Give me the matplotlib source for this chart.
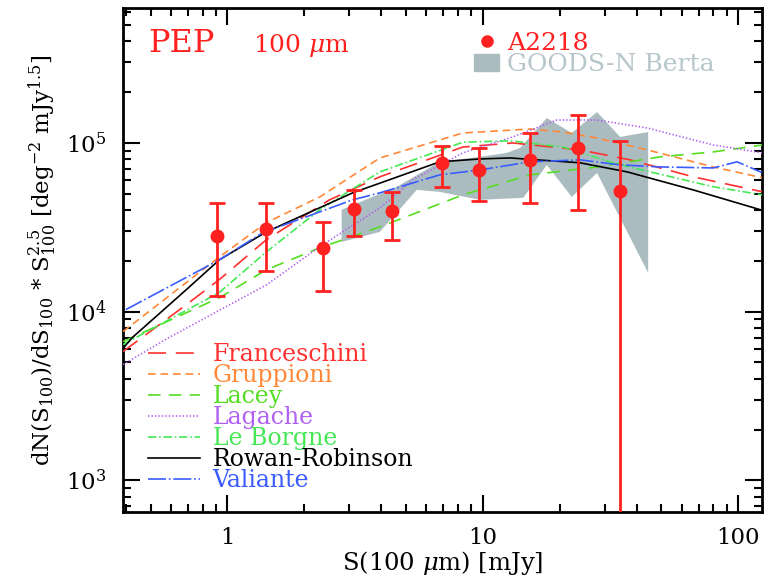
import matplotlib
matplotlib.use("Agg")
import matplotlib.pyplot as plt
import matplotlib.patches as mpatches
from matplotlib.lines import Line2D
from matplotlib.ticker import FuncFormatter, LogLocator, NullFormatter
import numpy as np

plt.rcParams['font.family'] = ['DejaVu Serif']
plt.rcParams['mathtext.fontset'] = 'dejavuserif'
plt.rcParams['mathtext.default'] = 'regular'
plt.rcParams['lines.scale_dashes'] = False

# A2218 counts
a2218_s = [0.91, 1.41, 2.36, 3.12, 4.40, 6.9, 9.7, 15.3, 23.6, 34.4]
a2218_y = [28200, 31000, 23900, 40600, 39600, 76200, 69200, 79000, 93500, 52000]
a2218_lo = [12300, 17500, 13300, 28200, 26700, 55000, 45400, 44100, 40200, 1]
a2218_hi = [44100, 44100, 34100, 52700, 51300, 96000, 93500, 115000, 146000, 103000]

# GOODS-N Berta band
berta_s_up = [2.80, 4.60, 6.78, 9.73, 12.4, 14.0, 17.8, 22.3, 28.0, 34.5, 44.4]
berta_up = [40200, 54900, 77300, 82700, 87300, 93400, 140500, 114600, 152500, 108600, 116000]
berta_s_lo = [2.80, 3.95, 5.51, 6.78, 9.73, 14.4, 17.8, 22.3, 28.0, 44.4]
berta_lo = [25900, 29700, 52700, 51300, 46000, 47300, 74100, 47900, 66400, 17000]

# models
fran_s = [0.39, 0.69, 0.93, 1.42, 2.51, 3.95, 8.35, 13.1, 24.0, 37.7, 66.6, 125]
fran_y = [5800, 11000, 15500, 26700, 46000, 63000, 94600, 100000, 91000, 79400, 63000, 51300]
grup_s = [0.39, 0.93, 1.42, 2.30, 3.95, 8.35, 15.3, 20.6, 28.0, 44.0, 79.8, 125]
grup_y = [7620, 21100, 33700, 47900, 81500, 114600, 121000, 116000, 107000, 91000, 72100, 62100]
lacey_s = [0.39, 0.93, 1.42, 2.30, 3.95, 8.35, 15.3, 28.0, 49.4, 79.8, 125]
lacey_y = [6640, 12100, 17700, 23900, 31800, 49200, 64700, 72100, 82700, 88500, 97300]
lag_s = [0.39, 0.59, 1.42, 2.30, 3.95, 5.31, 8.35, 13.1, 19.5, 28.0, 44.0, 79.8, 125]
lag_y = [4850, 7020, 14400, 24300, 41200, 60400, 87300, 108600, 136800, 136800, 122700, 97300, 87300]
lebo_s = [0.39, 0.93, 1.42, 2.30, 3.95, 8.35, 12.8, 20.6, 32.3, 45.2, 79.8, 125]
lebo_y = [6380, 13000, 22600, 40200, 67400, 101000, 103000, 94600, 76300, 67400, 55000, 49200]
rr_s = [0.387, 0.424, 0.69, 0.93, 1.42, 3.09, 6.78, 9.73, 12.8, 16.3, 24.0, 36.7, 66.6, 122]
rr_y = [5960, 7020, 13500, 20300, 29700, 50600, 77300, 80400, 81500, 79400, 76300, 67400, 52700, 40200]
val_s = [0.40, 0.93, 1.37, 3.09, 3.95, 6.78, 9.73, 15.3, 24.0, 34.5, 49.4, 79.8, 99, 125]
val_y = [10280, 20300, 29300, 46000, 50600, 64700, 69200, 77300, 79400, 74100, 72100, 71100, 77300, 66400]

fig = plt.figure(figsize=(7.69, 5.81), dpi=100)
ax = fig.add_axes([0.16, 0.119, 0.831, 0.867])

ax.fill(berta_s_up + berta_s_lo[::-1], berta_up + berta_lo[::-1],
        color='#aabcc0', lw=0, zorder=1)

lw = 1.2
ax.plot(fran_s, fran_y, color='#ff3030', lw=lw, dashes=(13, 7), label='Franceschini', zorder=3)
ax.plot(grup_s, grup_y, color='#ff8838', lw=lw, dashes=(5.5, 3.5), label='Gruppioni', zorder=3)
ax.plot(lacey_s, lacey_y, color='#55dd22', lw=lw, dashes=(9, 6), label='Lacey', zorder=3)
ax.plot(lag_s, lag_y, color='#b060f0', lw=lw, dashes=(1, 1.5), label='Lagache', zorder=3)
ax.plot(lebo_s, lebo_y, color='#44e855', lw=lw, dashes=(6, 2, 1.2, 2), label='Le Borgne', zorder=3)
ax.plot(rr_s, rr_y, color='black', lw=lw, label='Rowan-Robinson', zorder=3)
ax.plot(val_s, val_y, color='#3a5cff', lw=lw, dashes=(13, 2, 1.2, 2), label='Valiante', zorder=3)

y = np.array(a2218_y)
yerr = [y - np.array(a2218_lo), np.array(a2218_hi) - y]
ax.errorbar(a2218_s, a2218_y, yerr=yerr, fmt='o', color='#ff2020', ms=9,
            elinewidth=2, capsize=6, capthick=2, zorder=5)

ax.set_xscale('log')
ax.set_yscale('log')
ax.set_xlim(0.39, 124)
ax.set_ylim(650, 6.3e5)

ax.xaxis.set_major_formatter(FuncFormatter(lambda v, p: '%g' % v))
ax.xaxis.set_minor_formatter(NullFormatter())
ax.yaxis.set_minor_locator(LogLocator(subs=np.arange(2, 10)))
ax.yaxis.set_minor_formatter(NullFormatter())
ax.tick_params(which='both', direction='in', top=True, right=True, labelsize=16.5, width=1.5)
ax.tick_params(axis='x', which='major', length=12, pad=11)
ax.tick_params(axis='y', which='major', length=12, pad=12)
ax.tick_params(which='minor', length=6)
for sp in ax.spines.values():
    sp.set_linewidth(2)

ax.set_xlabel(r'S(100 $\mathit{\mu}$m) [mJy]', fontsize=17.5, labelpad=0)
ax.set_ylabel(r'dN(S$_{100}$)/dS$_{100}$ * S$^{2.5}_{100}$ [deg$^{-2}$ mJy$^{1.5}$]',
              fontsize=16.5, labelpad=5)

leg = ax.legend(loc='lower left', bbox_to_anchor=(0.02, 0.015), frameon=False, fontsize=17,
                handlelength=2.2, handletextpad=0.55, labelspacing=-0.08, borderpad=0,
                labelcolor='linecolor')

ax.text(0.04, 0.93, 'PEP', transform=ax.transAxes, color='#ff2020', fontsize=23, va='center')
ax.text(0.203, 0.925, r'100 $\mathit{\mu}$m', transform=ax.transAxes, color='#ff2020',
        fontsize=18, va='center')

h1 = Line2D([], [], marker='o', ls='none', color='#ff2020', ms=8)
h2 = mpatches.Patch(color='#aabcc0')
leg2 = ax.legend([h1, h2], ['A2218', 'GOODS-N Berta'], loc='upper left', bbox_to_anchor=(0.53, 0.978),
                 frameon=False, fontsize=18, handlelength=1.0, handletextpad=0.3, labelspacing=-0.05,
                 borderpad=0)
leg2.get_texts()[0].set_color('#ff2020')
leg2.get_texts()[1].set_color('#b6c6ca')
ax.add_artist(leg)

fig.savefig('out.png', dpi=100)
